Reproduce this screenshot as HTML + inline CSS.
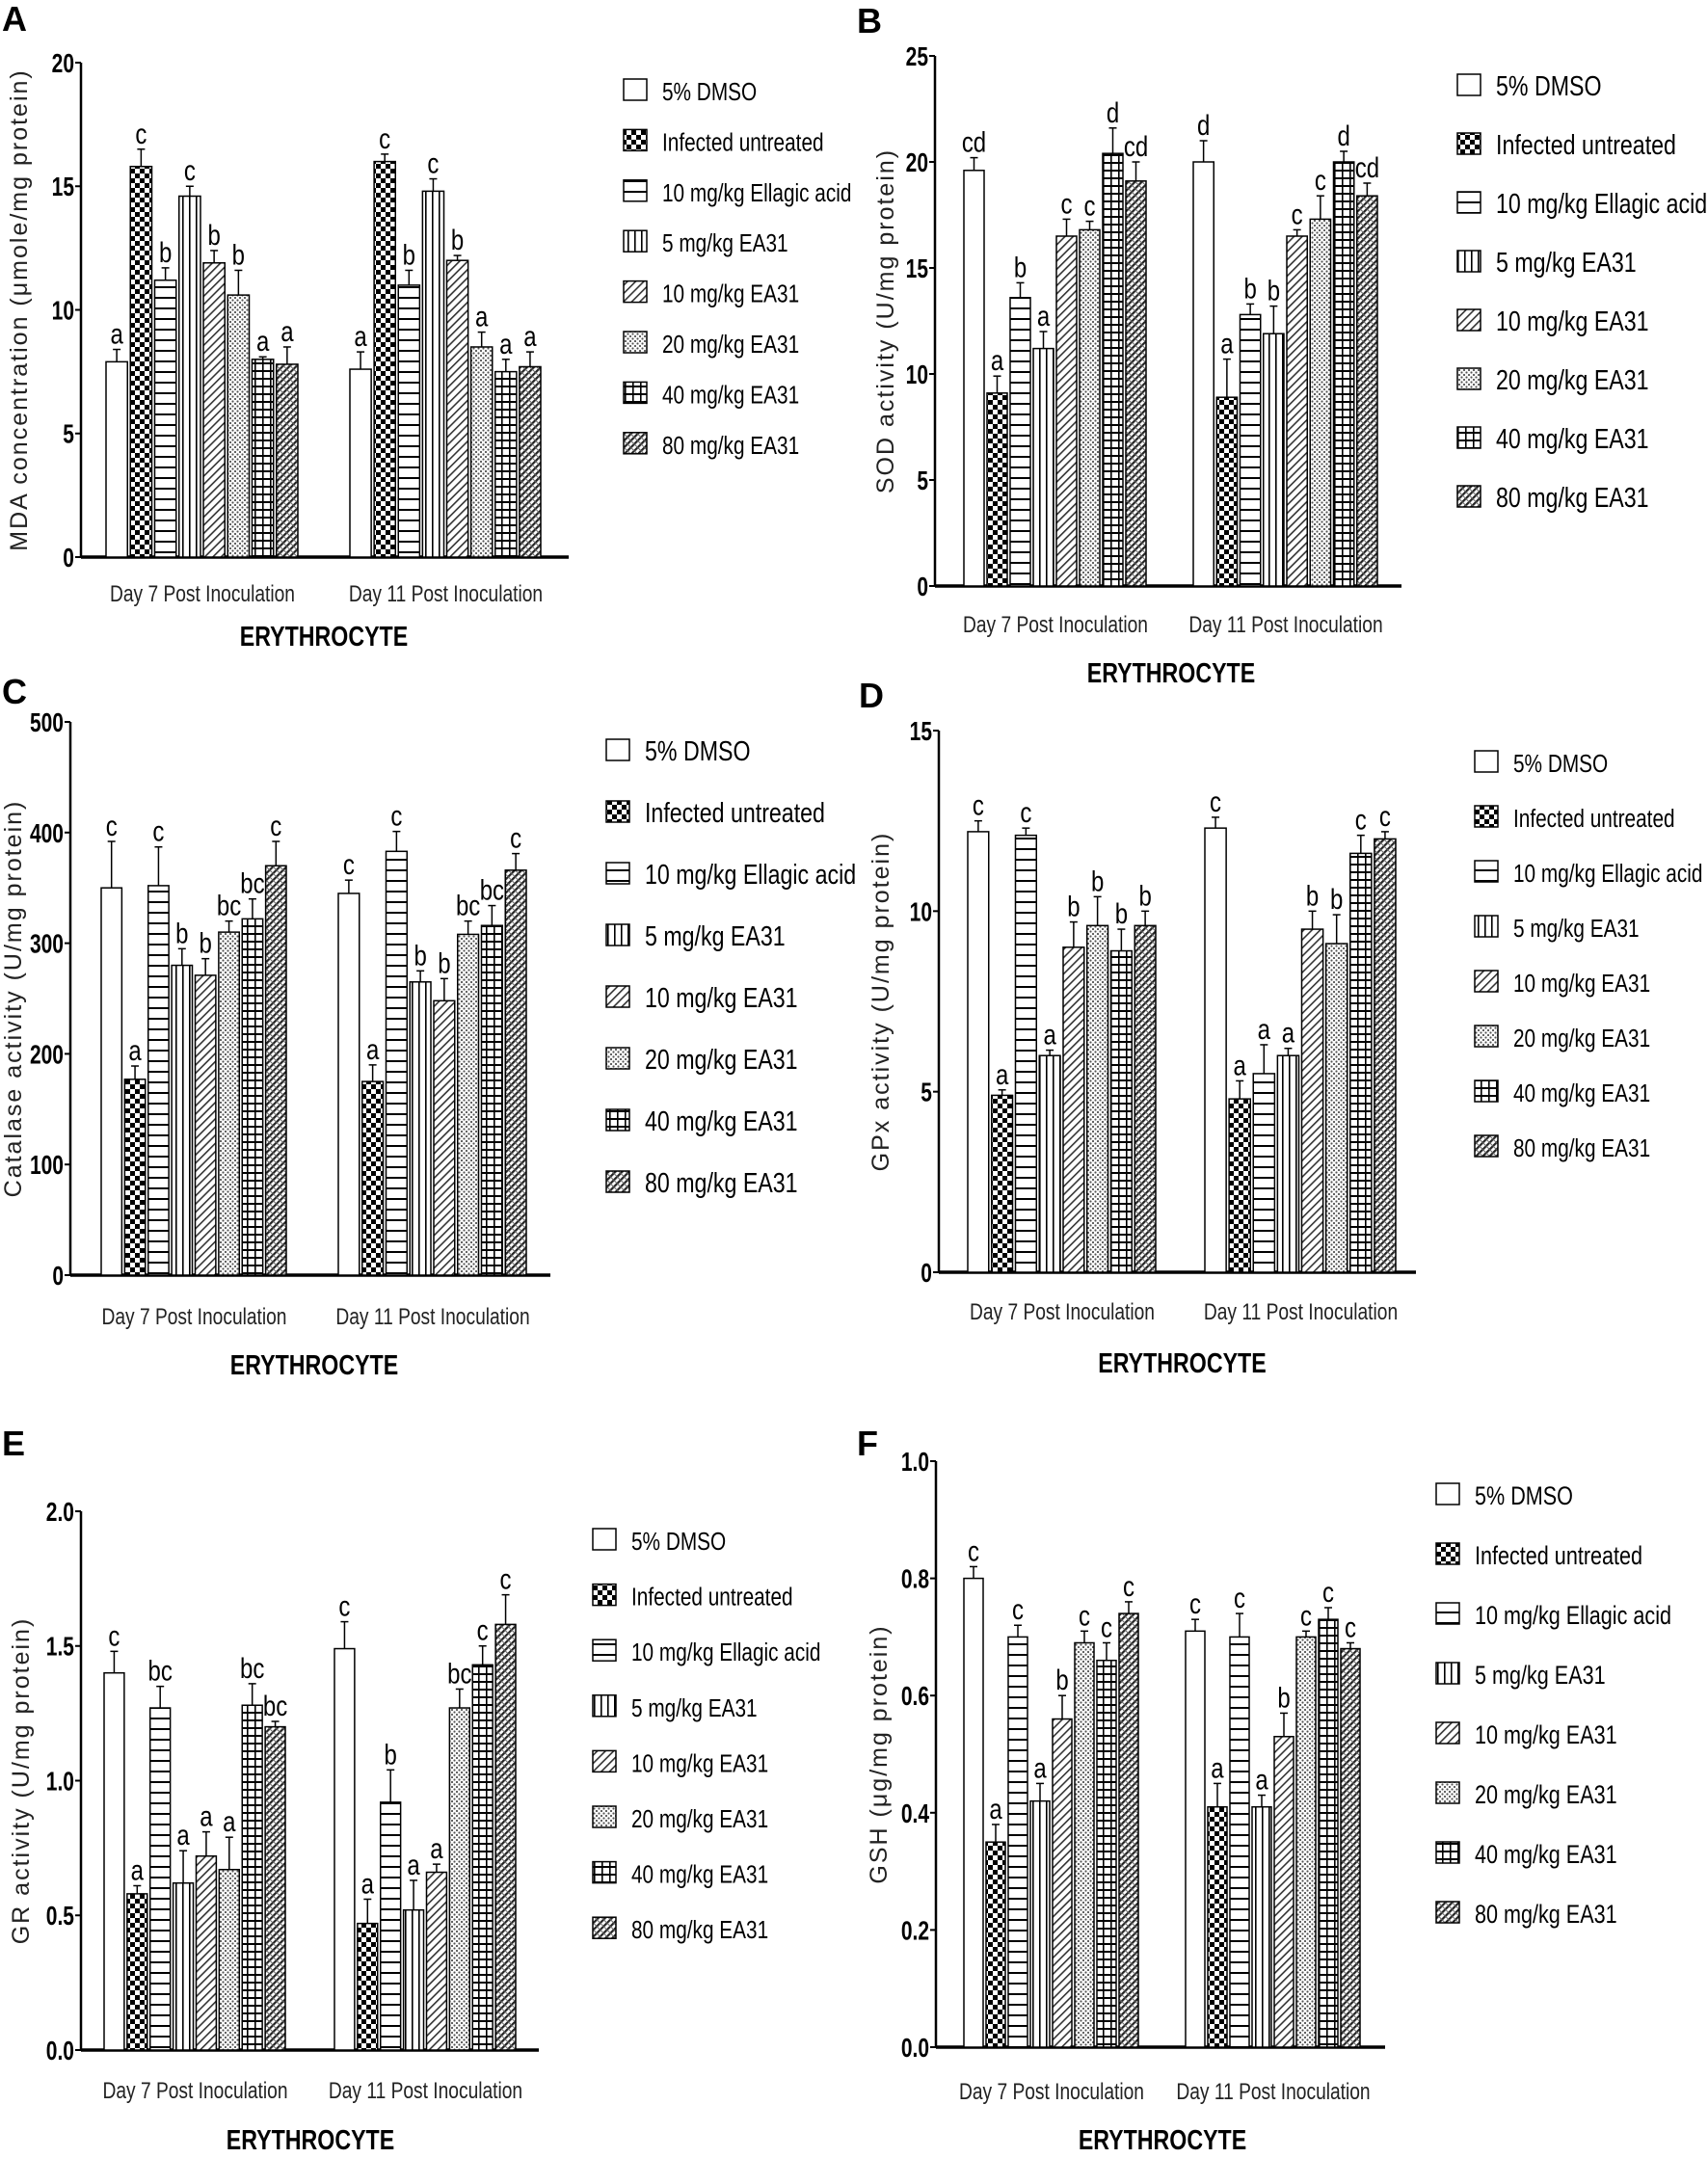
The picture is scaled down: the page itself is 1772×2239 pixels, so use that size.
<!DOCTYPE html>
<html><head><meta charset="utf-8">
<style>
html,body{margin:0;padding:0;background:#fff;}
svg{display:block;font-family:"Liberation Sans",sans-serif;}
</style></head>
<body>
<svg id="fig" width="1772" height="2239" viewBox="0 0 1772 2239" xmlns="http://www.w3.org/2000/svg">
<defs>
<pattern id="p0" width="8" height="8" patternUnits="userSpaceOnUse"><rect width="8" height="8" fill="#fff"/></pattern>
<pattern id="p1" width="10" height="10" patternUnits="userSpaceOnUse"><rect width="10" height="10" fill="#fff"/><rect width="5" height="5" fill="#000"/><rect x="5" y="5" width="5" height="5" fill="#000"/></pattern>
<pattern id="p2" width="8" height="11" patternUnits="userSpaceOnUse"><rect width="8" height="11" fill="#fff"/><rect y="0" width="8" height="2" fill="#000"/></pattern>
<pattern id="p3" width="7" height="8" patternUnits="userSpaceOnUse"><rect width="7" height="8" fill="#fff"/><rect x="0" width="1.6" height="8" fill="#000"/></pattern>
<pattern id="p4" width="6" height="6" patternUnits="userSpaceOnUse" patternTransform="rotate(45)"><rect width="6" height="6" fill="#fff"/><rect width="1.6" height="6" fill="#333"/></pattern>
<pattern id="p5" width="5" height="5" patternUnits="userSpaceOnUse"><rect width="5" height="5" fill="#fff"/><circle cx="1.5" cy="1.5" r="1.1" fill="#555"/><circle cx="4" cy="4" r="1.1" fill="#555"/></pattern>
<pattern id="p6" width="8" height="8" patternUnits="userSpaceOnUse"><rect width="8" height="8" fill="#fff"/><rect width="8" height="2" fill="#000"/><rect width="1.6" height="8" fill="#000"/></pattern>
<pattern id="p7" width="5" height="5" patternUnits="userSpaceOnUse" patternTransform="rotate(45)"><rect width="5" height="5" fill="#fff"/><rect width="2.2" height="5" fill="#222"/><rect width="5" height="1" fill="#666"/></pattern>
</defs>
</svg>
<script>
const legendLabels=["5% DMSO","Infected untreated","10 mg/kg Ellagic acid","5 mg/kg EA31","10 mg/kg EA31","20 mg/kg EA31","40 mg/kg EA31","80 mg/kg EA31"];
const categories=["Day 7 Post Inoculation","Day 11 Post Inoculation"];

const aDay7=[7.9,15.8,11.2,14.6,11.9,10.6,8.0,7.8];
const aDay11=[7.6,16.0,11.0,14.8,12.0,8.5,7.5,7.7];
const aErr7=[0.5,0.7,0.5,0.4,0.5,1.0,0.1,0.7];
const aErr11=[0.7,0.3,0.6,0.5,0.2,0.6,0.5,0.6];
const aLet7=["a","c","b","c","b","b","a","a"];
const aLet11=["a","c","b","c","b","a","a","a"];
const aTicks=[0,5,10,15,20];

const bDay7=[19.6,9.1,13.6,11.2,16.5,16.8,20.4,19.1];
const bDay11=[20.0,8.9,12.8,11.9,16.5,17.3,20.0,18.4];
const bErr7=[0.6,0.8,0.7,0.8,0.8,0.4,1.2,0.9];
const bErr11=[1.0,1.8,0.5,1.3,0.3,1.1,0.5,0.6];
const bLet7=["cd","a","b","a","c","c","d","cd"];
const bLet11=["d","a","b","b","c","c","d","cd"];
const bTicks=[0,5,10,15,20,25];

const cDay7=[350,177,352,280,271,310,322,370];
const cDay11=[345,175,383,265,248,308,316,366];
const cErr7=[42,12,35,15,15,10,18,22];
const cErr11=[12,15,18,10,20,12,18,15];
const cLet7=["c","a","c","b","b","bc","bc","c"];
const cLet11=["c","a","c","b","b","bc","bc","c"];
const cTicks=[0,100,200,300,400,500];

const dDay7=[12.2,4.9,12.1,6.0,9.0,9.6,8.9,9.6];
const dDay11=[12.3,4.8,5.5,6.0,9.5,9.1,11.6,12.0];
const dErr7=[0.3,0.15,0.2,0.15,0.7,0.8,0.6,0.4];
const dErr11=[0.3,0.5,0.8,0.2,0.5,0.8,0.5,0.2];
const dLet7=["c","a","c","a","b","b","b","b"];
const dLet11=["c","a","a","a","b","b","c","c"];
const dTicks=[0,5,10,15];

const eDay7=[1.40,0.58,1.27,0.62,0.72,0.67,1.28,1.20];
const eDay11=[1.49,0.47,0.92,0.52,0.66,1.27,1.43,1.58];
const eErr7=[0.08,0.03,0.08,0.12,0.09,0.12,0.08,0.02];
const eErr11=[0.10,0.09,0.12,0.11,0.03,0.07,0.07,0.11];
const eLet7=["c","a","bc","a","a","a","bc","bc"];
const eLet11=["c","a","b","a","a","bc","c","c"];
const eTicks=[0.0,0.5,1.0,1.5,2.0];

const fDay7=[0.80,0.35,0.70,0.42,0.56,0.69,0.66,0.74];
const fDay11=[0.71,0.41,0.70,0.41,0.53,0.70,0.73,0.68];
const fErr7=[0.02,0.03,0.02,0.03,0.04,0.02,0.03,0.02];
const fErr11=[0.02,0.04,0.04,0.02,0.04,0.01,0.02,0.01];
const fLet7=["c","a","c","a","b","c","c","c"];
const fLet11=["c","a","c","a","b","c","c","c"];
const fTicks=[0.0,0.2,0.4,0.6,0.8,1.0];

const NS="http://www.w3.org/2000/svg";
const svg=document.getElementById('fig');
function mk(tag,attrs,parent){const e=document.createElementNS(NS,tag);for(const k in attrs)e.setAttribute(k,attrs[k]);(parent||svg).appendChild(e);return e;}
function sx(x,s){return `translate(${x},0) scale(${s},1) translate(${-x},0)`;}

function panel(o){
  const g=mk('g',{});
  
  
  const max=o.ticks[o.ticks.length-1];
  const y=v=>o.base-(v/max)*(o.base-o.top);
  const lab=mk('text',{x:o.lx,y:o.ly,'font-size':36,'font-weight':'bold'},g);lab.textContent=o.id;
  
  
  const ya=mk('line',{x1:o.ax,y1:o.top,x2:o.ax,y2:o.base,stroke:'#000','stroke-width':2.5},g);
  
  
  const xa=mk('line',{x1:o.ax,y1:o.base,x2:o.end,y2:o.base,stroke:'#000','stroke-width':3.5},g);
  
  
  o.ticks.forEach(t=>{
    mk('line',{x1:o.ax-6,y1:y(t),x2:o.ax,y2:y(t),stroke:'#000','stroke-width':2},g);
    const tx=mk('text',{x:o.ax-7,y:y(t)+10,'font-size':28,'font-weight':'bold','text-anchor':'end',transform:sx(o.ax-7,0.75)},g);
    tx.textContent=o.dec?t.toFixed(1):t;
    
    
  });
  const yt=mk('text',{x:0,y:0,'font-size':25,'letter-spacing':'2','text-anchor':'middle',fill:'#222',transform:`translate(${o.yx},${(o.top+o.base)/2}) rotate(-90)`},g);
  yt.textContent=o.ytitle;
  
  
  const series=[[o.d7,o.e7,o.l7],[o.d11,o.e11,o.l11]];
  series.forEach((s,gi)=>{
    const [x0,x1]=o.groups[gi];
    const bw=(x1-x0)/8;
    s[0].forEach((v,i)=>{
      const bx=x0+i*bw+1, w=bw-3;
      const r=mk('rect',{x:bx,y:y(v),width:w,height:o.base-y(v),fill:`url(#p${i})`,stroke:'#000','stroke-width':1.5},g);
      
      
      const cx=bx+w/2, ye=y(v+s[1][i]);
      mk('line',{x1:cx,y1:y(v),x2:cx,y2:ye,stroke:'#000','stroke-width':1.5},g);
      mk('line',{x1:cx-4,y1:ye,x2:cx+4,y2:ye,stroke:'#000','stroke-width':1.5},g);
      const lt=mk('text',{x:cx,y:ye-6,'font-size':30,'text-anchor':'middle',transform:sx(cx,0.8)},g);
      lt.textContent=s[2][i];
      
      
    });
    const cm=(x0+x1)/2;
    const cl=mk('text',{x:cm,y:o.cy,'font-size':24,'text-anchor':'middle',fill:'#222',transform:sx(cm,0.8)},g);
    cl.textContent=categories[gi];
    
    
  });
  const mid=(o.groups[0][0]+o.groups[1][1])/2;
  const er=mk('text',{x:mid,y:o.ery,'font-size':29,'font-weight':'bold','text-anchor':'middle',transform:sx(mid,0.8)},g);
  er.textContent='ERYTHROCYTE';
  
  
  legendLabels.forEach((L,i)=>{
    const ly=o.legY+i*o.legS;
    const lg=mk('g',{},g);
    
    
    mk('rect',{x:o.legX,y:ly-11,width:24,height:22,fill:`url(#p${i})`,stroke:'#000','stroke-width':1.5},lg);
    const t=mk('text',{x:o.legX+40,y:ly+11,'font-size':o.legF,transform:sx(o.legX+40,0.8)},lg);
    t.textContent=L;
  });
}

panel({id:'A',lx:2,ly:32,ax:84,top:65,base:578,end:590,ticks:aTicks,groups:[[109,311],[362,563]],d7:aDay7,d11:aDay11,e7:aErr7,e11:aErr11,l7:aLet7,l11:aLet11,yx:28,ytitle:'MDA concentration (μmole/mg protein)',cy:624,ery:670,legX:647,legY:93,legS:52.4,legF:26});
panel({id:'B',lx:889,ly:34,ax:970,top:58,base:608,end:1454,ticks:bTicks,groups:[[999,1191],[1237,1431]],d7:bDay7,d11:bDay11,e7:bErr7,e11:bErr11,l7:bLet7,l11:bLet11,yx:927,ytitle:'SOD activity (U/mg protein)',cy:656,ery:708,legX:1512,legY:88,legS:61,legF:29});
panel({id:'C',lx:2,ly:730,ax:73,top:749,base:1323,end:571,ticks:cTicks,groups:[[104,299],[350,548]],d7:cDay7,d11:cDay11,e7:cErr7,e11:cErr11,l7:cLet7,l11:cLet11,yx:22,ytitle:'Catalase activity (U/mg protein)',cy:1374,ery:1426,legX:629,legY:778,legS:64,legF:29});
panel({id:'D',lx:891,ly:734,ax:974,top:758,base:1320,end:1469,ticks:dTicks,groups:[[1003,1201],[1249,1450]],d7:dDay7,d11:dDay11,e7:dErr7,e11:dErr11,l7:dLet7,l11:dLet11,yx:922,ytitle:'GPx activity (U/mg protein)',cy:1369,ery:1424,legX:1530,legY:790,legS:57,legF:26});
panel({id:'E',lx:2,ly:1510,ax:84,top:1568,base:2127,end:559,ticks:eTicks,dec:true,groups:[[107,298],[346,537]],d7:eDay7,d11:eDay11,e7:eErr7,e11:eErr11,l7:eLet7,l11:eLet11,yx:30,ytitle:'GR activity (U/mg protein)',cy:2177,ery:2230,legX:615,legY:1597,legS:57.6,legF:26});
panel({id:'F',lx:889,ly:1510,ax:971,top:1516,base:2124,end:1437,ticks:fTicks,dec:true,groups:[[999,1183],[1229,1413]],d7:fDay7,d11:fDay11,e7:fErr7,e11:fErr11,l7:fLet7,l11:fLet11,yx:920,ytitle:'GSH (μg/mg protein)',cy:2178,ery:2230,legX:1490,legY:1550,legS:62,legF:27});
</script>
</body></html>
